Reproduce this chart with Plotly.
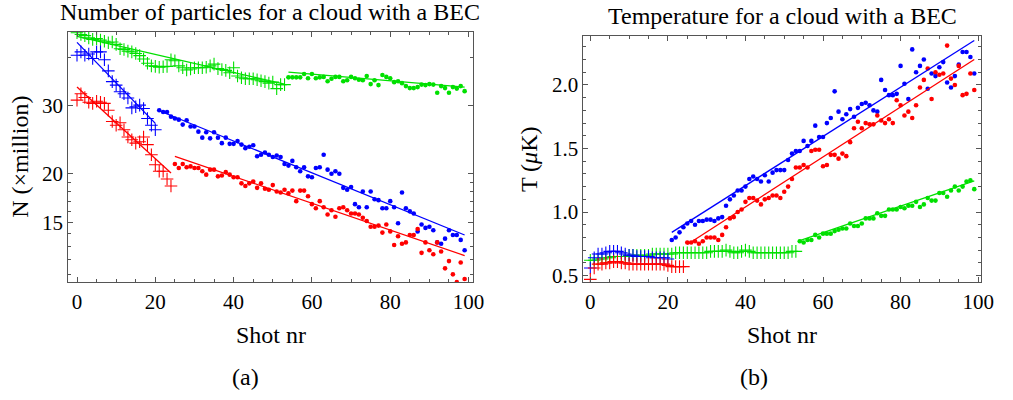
import plotly.graph_objects as go

# ---------------- data: panel (a) particle number (million) ----------------
shots_a_green_cross = list(range(0, 54))
N_green_cross = [46.3, 45.8, 45.5, 44.9, 44.5, 44.7, 44.3, 44.0, 43.6, 43.8,
                 43.2, 42.1, 41.9, 41.5, 41.3, 40.9, 40.4, 39.6, 38.6, 38.0,
                 37.9, 37.7, 37.8, 37.9, 39.4, 39.2, 38.0, 37.6, 37.1, 37.3,
                 37.6, 37.6, 37.6, 37.7, 38.0, 38.4, 37.4, 37.2, 37.0, 36.5,
                 37.6, 35.8, 35.4, 35.2, 35.2, 35.2, 35.0, 34.8, 34.6, 34.3,
                 34.5, 33.2, 34.0, 34.0]
shots_a_green_dot = list(range(54, 100))
N_green_dot = [35.5, 35.5, 35.5, 35.5, 36.2, 35.3, 36.2, 35.3, 35.5, 35.6,
               34.7, 35.2, 35.6, 35.6, 34.7, 34.9, 35.6, 35.3, 35.0, 34.9,
               35.8, 34.1, 34.9, 33.9, 36.0, 35.6, 35.3, 34.5, 34.7, 34.3,
               33.7, 33.3, 33.3, 33.5, 34.0, 33.9, 34.1, 34.0, 32.4, 33.7,
               33.3, 32.4, 33.5, 33.2, 33.7, 32.7]
shots_a_blue_cross = list(range(0, 21))
N_blue_cross = [40.5, 41.3, 40.5, 40.8, 39.7, 41.3, 41.3, 39.4, 36.9, 34.6,
                33.9, 32.6, 32.2, 31.4, 29.6, 29.8, 30.1, 29.5, 27.8, 26.7, 26.0]
shots_a_blue_dot = list(range(21, 100))
N_blue_dot = [29.2, 28.9, 28.9, 28.1, 27.8, 27.6, 26.8, 27.5, 26.5, 26.5,
              25.7, 24.8, 25.6, 24.7, 25.6, 24.8, 24.0, 24.8, 23.9, 23.9,
              24.3, 23.8, 23.3, 23.5, 23.7, 22.2, 22.4, 22.7, 22.4, 22.1,
              22.3, 22.1, 21.2, 21.0, 21.6, 20.8, 20.3, 20.8, 19.7, 19.6,
              20.7, 20.8, 22.4, 20.5, 20.0, 20.3, 20.0, 18.4, 18.2, 18.5,
              16.7, 16.4, 18.0, 16.4, 18.0, 17.2, 17.1, 16.3, 16.3, 17.0,
              16.4, 14.9, 17.9, 16.3, 16.0, 15.8, 14.2, 14.8, 14.5, 14.6,
              14.3, 13.3, 13.2, 13.6, 14.3, 13.9, 13.9, 13.5, 12.7]
shots_a_red_cross = list(range(0, 25))
N_red_cross = [31.0, 32.2, 31.5, 30.6, 30.4, 30.8, 30.6, 30.4, 29.2, 27.3,
               26.7, 27.1, 26.0, 24.9, 24.5, 24.0, 24.2, 24.9, 23.8, 22.4,
               21.1, 20.3, 20.3, 19.4, 18.6]
shots_a_red_dot = list(range(25, 100))
N_red_dot = [21.2, 20.7, 21.2, 20.8, 20.9, 20.7, 20.7, 20.3, 19.9, 20.5,
             20.5, 19.7, 19.8, 20.2, 19.9, 19.6, 19.6, 18.9, 18.6, 18.9,
             19.1, 18.4, 18.9, 18.3, 18.2, 18.7, 18.0, 17.9, 18.2, 17.8,
             18.1, 17.0, 18.1, 18.1, 17.5, 16.7, 16.3, 17.0, 16.4, 15.7,
             16.1, 15.5, 16.3, 16.4, 16.1, 15.8, 15.8, 15.7, 15.4, 15.1,
             14.6, 14.6, 14.7, 14.1, 14.8, 14.2, 13.1, 13.8, 13.2, 13.3,
             13.9, 13.9, 14.4, 12.5, 13.3, 12.7, 12.4, 13.3, 12.6, 11.4,
             11.9, 11.0, 10.5, 11.8, 10.7]
# exponential fit lines (end points)
fit_a_green_cross = ([0, 53], [45.3, 34.1])
fit_a_green_dot = ([54, 99], [36.6, 33.5])
fit_a_blue_cross = ([0, 20], [43.7, 27.0])
fit_a_blue_dot = ([21, 99], [29.1, 13.9])
fit_a_red_cross = ([0, 24], [33.5, 20.1])
fit_a_red_dot = ([25, 99], [22.2, 12.3])

# ---------------- data: panel (b) temperature (uK) ----------------
shots_b_blue_cross = list(range(0, 21))
T_blue_cross = [0.56, 0.64, 0.67, 0.67, 0.68, 0.69, 0.69, 0.69, 0.68, 0.67,
                0.66, 0.66, 0.65, 0.65, 0.65, 0.65, 0.64, 0.64, 0.64, 0.64, 0.63]
shots_b_red_cross = list(range(0, 25))
T_red_cross = [0.47, 0.56, 0.59, 0.59, 0.60, 0.60, 0.61, 0.61, 0.60, 0.60,
               0.59, 0.59, 0.59, 0.59, 0.59, 0.59, 0.59, 0.59, 0.59, 0.59,
               0.58, 0.57, 0.57, 0.57, 0.57]
shots_b_green_cross = list(range(0, 54))
T_green_cross = [0.62, 0.62, 0.63, 0.63, 0.64, 0.64, 0.65, 0.65, 0.65, 0.65,
                 0.66, 0.66, 0.66, 0.66, 0.66, 0.66, 0.67, 0.67, 0.67, 0.67,
                 0.67, 0.67, 0.68, 0.68, 0.68, 0.68, 0.68, 0.68, 0.68, 0.68,
                 0.68, 0.69, 0.69, 0.69, 0.69, 0.70, 0.69, 0.68, 0.68, 0.69,
                 0.70, 0.69, 0.68, 0.68, 0.68, 0.68, 0.68, 0.68, 0.68, 0.68,
                 0.68, 0.68, 0.69, 0.69]
shots_b_blue_dot = list(range(21, 100))
T_blue_dot = [0.78, 0.80, 0.84, 0.88, 0.91, 0.93, 0.90, 0.93, 0.93, 0.94,
              0.94, 0.93, 0.95, 0.96, 1.05, 1.10, 1.13, 1.17, 1.17, 1.20,
              1.26, 1.28, 1.26, 1.24, 1.29, 1.24, 1.31, 1.33, 1.33,
              1.33, 1.41, 1.46, 1.48, 1.48, 1.56, 1.52, 1.56, 1.68, 1.59,
              1.59, 1.70, 1.74, 1.95, 1.79, 1.73, 1.77, 1.81, 1.75, 1.82,
              1.85, 1.86, 1.84, 1.80, 1.79, 2.04, 1.96, 1.92, 1.92, 1.93,
              2.15, 2.01, 1.89, 2.28, 2.10, 2.15, 2.20, 1.97, 2.09, 2.07,
              2.14, 2.18, 2.02, 1.98, 2.07, 2.16, 2.26, 2.26, 2.22, 2.09]
shots_b_red_dot = list(range(25, 100))
T_red_dot = [0.76, 0.76, 0.77, 0.75, 0.77, 0.80, 0.80, 0.80, 0.78, 0.82,
             0.88, 0.95, 0.96, 1.00, 1.02, 1.08, 1.11, 1.11, 1.09, 1.06,
             1.10, 1.11, 1.13, 1.13, 1.11, 1.16, 1.20,
             1.26, 1.35, 1.35, 1.37, 1.35, 1.48, 1.49, 1.49, 1.36, 1.37,
             1.45, 1.45, 1.42, 1.46, 1.44, 1.55, 1.66, 1.71, 1.66, 1.70,
             1.69, 1.69, 1.76, 1.72, 1.70, 1.73, 1.70, 1.88, 1.84, 1.76,
             1.79, 1.74, 1.84, 1.98, 2.04, 2.13, 1.89, 2.10, 2.08, 2.09,
             2.31, 2.05, 2.00, 2.15, 1.92, 1.93, 2.09, 1.96]
shots_b_green_dot = list(range(54, 100))
T_green_dot = [0.77, 0.76, 0.78, 0.78, 0.82, 0.80, 0.83, 0.83, 0.83, 0.85,
               0.86, 0.87, 0.87, 0.91, 0.89, 0.89, 0.91, 0.95, 0.95, 0.95,
               0.99, 0.97, 0.97, 1.02, 1.02, 1.02, 1.04, 1.03, 1.05, 1.05,
               1.08, 1.04, 1.06, 1.11, 1.09, 1.09, 1.15, 1.15, 1.12, 1.17,
               1.20, 1.17, 1.20, 1.24, 1.25, 1.18]
fit_b_blue_dot = ([21, 99], [0.84, 2.35])
fit_b_red_dot = ([25, 99], [0.745, 2.20])
fit_b_green_dot = ([54, 99], [0.775, 1.245])

x_ticks = [0, 20, 40, 60, 80, 100]
N_ticks = [15, 20, 30]
N_minor = [11, 12, 13, 14, 16, 17, 18, 19, 40]
T_ticks = [0.5, 1.0, 1.5, 2.0]
T_tick_text = ["0.5", "1.0", "1.5", "2.0"]

# ---------------- styles ----------------
RED, GREEN, BLUE = "#ff0000", "#00e000", "#0000ff"
W, H = 1013, 400
SERIF = "Liberation Serif"
FRAME = "#555555"

fig = go.Figure()


def cross(x, y, c, xa, ya):
    fig.add_trace(go.Scatter(x=x, y=y, mode="markers", xaxis=xa, yaxis=ya,
                             marker=dict(symbol="cross-thin", size=9,
                                         line=dict(color=c, width=1.1)),
                             showlegend=False, hoverinfo="skip"))


def dots(x, y, c, xa, ya):
    fig.add_trace(go.Scatter(x=x, y=y, mode="markers", xaxis=xa, yaxis=ya,
                             marker=dict(symbol="circle", size=4.6, color=c,
                                         line=dict(width=0)),
                             showlegend=False, hoverinfo="skip"))


def fit(f, c, xa, ya):
    fig.add_trace(go.Scatter(x=f[0], y=f[1], mode="lines", xaxis=xa, yaxis=ya,
                             line=dict(color=c, width=1.3),
                             showlegend=False, hoverinfo="skip"))


# panel (a)
cross(shots_a_green_cross, N_green_cross, GREEN, "x", "y")
dots(shots_a_green_dot, N_green_dot, GREEN, "x", "y")
cross(shots_a_blue_cross, N_blue_cross, BLUE, "x", "y")
dots(shots_a_blue_dot, N_blue_dot, BLUE, "x", "y")
cross(shots_a_red_cross, N_red_cross, RED, "x", "y")
dots(shots_a_red_dot, N_red_dot, RED, "x", "y")
for f, c in [(fit_a_green_cross, GREEN), (fit_a_green_dot, GREEN),
             (fit_a_blue_cross, BLUE), (fit_a_blue_dot, BLUE),
             (fit_a_red_cross, RED), (fit_a_red_dot, RED)]:
    fit(f, c, "x", "y")

# panel (b)
cross(shots_b_green_cross, T_green_cross, GREEN, "x2", "y2")
cross(shots_b_blue_cross, T_blue_cross, BLUE, "x2", "y2")
cross(shots_b_red_cross, T_red_cross, RED, "x2", "y2")
dots(shots_b_blue_dot, T_blue_dot, BLUE, "x2", "y2")
dots(shots_b_red_dot, T_red_dot, RED, "x2", "y2")
dots(shots_b_green_dot, T_green_dot, GREEN, "x2", "y2")
for f, c in [(fit_b_blue_dot, BLUE), (fit_b_red_dot, RED), (fit_b_green_dot, GREEN)]:
    fit(f, c, "x2", "y2")

tickfont = dict(family=SERIF, size=21, color="black")
common = dict(showline=True, linecolor=FRAME, linewidth=1, mirror="allticks",
              ticks="inside", ticklen=5, tickwidth=1, tickcolor=FRAME,
              showgrid=False, zeroline=False, tickfont=tickfont)

fig.update_layout(
    width=W, height=H, margin=dict(l=0, r=0, t=0, b=0),
    paper_bgcolor="white", plot_bgcolor="white",
    xaxis=dict(domain=[69 / W, 479 / W], range=[-2.27, 101.1], anchor="y",
               tickvals=x_ticks,
               minor=dict(tick0=0, dtick=5, ticks="inside", ticklen=3,
                          tickcolor=FRAME), **common),
    yaxis=dict(domain=[(H - 286) / H, (H - 32) / H], type="log",
               range=[1.0205, 1.6684], anchor="x", tickvals=N_ticks,
               ticktext=[str(v) for v in N_ticks],
               minor=dict(tickvals=N_minor, ticks="inside", ticklen=3,
                          tickcolor=FRAME), **common),
    xaxis2=dict(domain=[591 / W, 994 / W], range=[-1.78, 100.8], anchor="y2",
                tickvals=x_ticks,
                minor=dict(tick0=0, dtick=5, ticks="inside", ticklen=3,
                           tickcolor=FRAME), **common),
    yaxis2=dict(domain=[(H - 286) / H, (H - 36) / H], range=[0.446, 2.389],
                anchor="x2", tickvals=T_ticks, ticktext=T_tick_text,
                minor=dict(tick0=0, dtick=0.1, ticks="inside", ticklen=3,
                           tickcolor=FRAME), **common),
)


def label(text, px, py, size=24, angle=0):
    fig.add_annotation(text=text, x=px / W, y=1 - py / H, xref="paper",
                       yref="paper", showarrow=False, textangle=angle,
                       xanchor="center", yanchor="middle",
                       font=dict(family=SERIF, size=size, color="black"))


label("Number of particles for a cloud with a BEC", 274, 12)
label("Temperature for a cloud with a BEC", 792.5, 16)
label("Shot nr", 274.5, 339)
label("Shot nr", 792.5, 339)
label("N (×million)", 20, 159, angle=-90)
label("T (<i>μ</i>K)", 536, 161, angle=-90)
label("(a)", 249, 382)
label("(b)", 764, 382)

fig.write_html("out.html")
